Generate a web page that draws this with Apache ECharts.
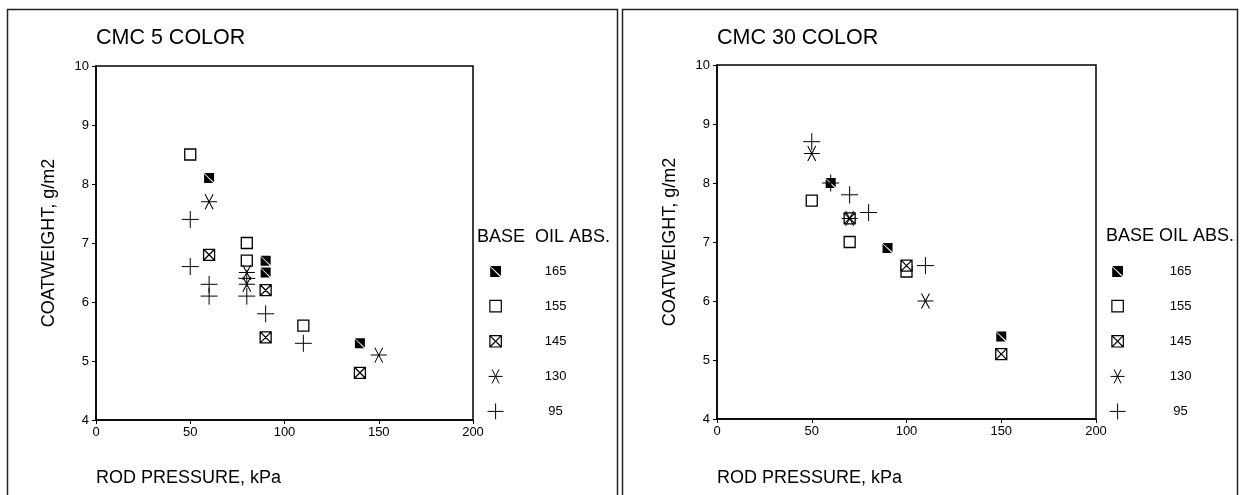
<!DOCTYPE html>
<html>
<head>
<meta charset="utf-8">
<script src="https://cdn.jsdelivr.net/npm/echarts@6/dist/echarts.min.js"></script>
<style>
  html, body { margin: 0; padding: 0; background: #fff; }
  #chart { width: 1240px; height: 495px; }
</style>
</head>
<body>
<div id="chart"></div>
<script>
// Base oil absorption groups (legend order)
const groups = ['165', '155', '145', '130', '95'];
const xTicks = [0, 50, 100, 150, 200];
const yTicks = [4, 5, 6, 7, 8, 9, 10];

// CMC 5 COLOR: [rod pressure kPa, coatweight g/m2]
const cmc5_165 = [[60, 8.1], [90, 6.7], [90, 6.5], [140, 5.3]];
const cmc5_155 = [[50, 8.5], [80, 7.0], [80, 6.7], [110, 5.6]];
const cmc5_145 = [[60, 6.8], [90, 6.2], [90, 5.4], [140, 4.8]];
const cmc5_130 = [[60, 7.7], [80, 6.5], [80, 6.3], [150, 5.1]];
const cmc5_95 = [[50, 7.4], [50, 6.6], [60, 6.3], [60, 6.1], [80, 6.4], [80, 6.1], [90, 5.8], [110, 5.3]];

// CMC 30 COLOR
const cmc30_165 = [[60, 8.0], [90, 6.9], [150, 5.4]];
const cmc30_155 = [[50, 7.7], [70, 7.0], [100, 6.5]];
const cmc30_145 = [[70, 7.4], [100, 6.6], [150, 5.1]];
const cmc30_130 = [[50, 8.5], [70, 7.4], [110, 6.0]];
const cmc30_95 = [[50, 8.7], [60, 8.0], [70, 7.8], [80, 7.5], [110, 6.6]];

const FONT = '"Liberation Sans", Arial, sans-serif';

// Marker shapes for each group; legend icons carry padding so they keep their relative sizes
const marks = {
  '165': { symbol: 'path://M0,0H100V92ZM0,8L92,100H0Z', size: 10,
           icon: 'path://M-24,-24M124,124M0,0H100V92ZM0,8L92,100H0Z',
           style: { color: '#000', borderWidth: 0 }, legendBorder: 0 },
  '155': { symbol: 'path://M0,0H100V100H0Z', size: 11,
           icon: 'path://M-20,-20M120,120M0,0H100V100H0Z',
           style: { color: '#fff', borderColor: '#000', borderWidth: 1.3 }, legendBorder: 1.2 },
  '145': { symbol: 'path://M0,0H100V100H0ZM0,0L100,100M100,0L0,100', size: 11,
           icon: 'path://M-20,-20M120,120M0,0H100V100H0ZM0,0L100,100M100,0L0,100',
           style: { color: '#fff', borderColor: '#000', borderWidth: 1.3 }, legendBorder: 1.2 },
  '130': { symbol: 'path://M0,50H100M25,0L75,100M75,0L25,100', size: [16, 15],
           icon: 'path://M-7,-7M107,107M0,50H100M25,0L75,100M75,0L25,100',
           style: { color: 'rgba(0,0,0,0)', borderColor: '#000', borderWidth: 1 }, legendBorder: 1 },
  '95':  { symbol: 'path://M0,50H100M50,0V100', size: 17,
           icon: 'path://M0,50H100M50,0V100',
           style: { color: 'rgba(0,0,0,0)', borderColor: '#000', borderWidth: 1 }, legendBorder: 1 }
};

const panels = [
  { title: 'CMC 5 COLOR', grid: { left: 96, top: 66, width: 377, height: 354 },
    data: { '165': cmc5_165, '155': cmc5_155, '145': cmc5_145, '130': cmc5_130, '95': cmc5_95 },
    legendHead: 'BASE  OIL ABS.', headX: 477, headY: 237, iconX: 495, labelX: 555 },
  { title: 'CMC 30 COLOR', grid: { left: 717, top: 65, width: 379, height: 354 },
    data: { '165': cmc30_165, '155': cmc30_155, '145': cmc30_145, '130': cmc30_130, '95': cmc30_95 },
    legendHead: 'BASE OIL ABS.', headX: 1106, headY: 236, iconX: 1117, labelX: 1180 }
];

const option = {
  animation: false,
  backgroundColor: '#fff',
  textStyle: { fontFamily: FONT, color: '#000' },
  title: [],
  grid: [],
  xAxis: [],
  yAxis: [],
  legend: [],
  series: [],
  graphic: []
};

// Outer frames around each panel
option.graphic.push(
  { type: 'rect', shape: { x: 7.5, y: 9.5, width: 610, height: 600 },
    style: { fill: 'none', stroke: '#222', lineWidth: 1.5 }, silent: true },
  { type: 'rect', shape: { x: 622.5, y: 9.5, width: 615, height: 600 },
    style: { fill: 'none', stroke: '#222', lineWidth: 1.5 }, silent: true }
);

const LEG_ICON = 16;

panels.forEach((p, i) => {
  option.title.push(
    { text: p.title, left: p.grid.left, top: 27, padding: 0,
      textStyle: { fontFamily: FONT, fontSize: 21.5, fontWeight: 'normal', color: '#000' } },
    { text: 'ROD PRESSURE, kPa', left: p.grid.left, top: 469, padding: 0,
      textStyle: { fontFamily: FONT, fontSize: 18, fontWeight: 'normal', color: '#000' } },
    { text: p.legendHead, left: p.headX, top: p.headY - 9, padding: 0,
      textStyle: { fontFamily: FONT, fontSize: 18, fontWeight: 'normal', color: '#000' } }
  );
  option.grid.push(Object.assign({ show: true, borderColor: '#000', borderWidth: 1.5,
    backgroundColor: '#fff' }, p.grid));
  option.xAxis.push({
    gridIndex: i, type: 'value', min: xTicks[0], max: xTicks[xTicks.length - 1], interval: 50,
    axisLine: { show: true, lineStyle: { color: '#000', width: 1.5 } },
    axisTick: { show: true, length: 4, lineStyle: { color: '#000' } },
    axisLabel: { fontFamily: FONT, fontSize: 13, color: '#000', margin: 6 },
    splitLine: { show: false }
  });
  option.yAxis.push({
    gridIndex: i, type: 'value', min: yTicks[0], max: yTicks[yTicks.length - 1], interval: 1,
    name: 'COATWEIGHT, g/m2', nameLocation: 'middle', nameGap: 38,
    nameTextStyle: { fontFamily: FONT, fontSize: 18, color: '#000' },
    axisLine: { show: true, lineStyle: { color: '#000', width: 1.5 } },
    axisTick: { show: true, length: 4, lineStyle: { color: '#000' } },
    axisLabel: { fontFamily: FONT, fontSize: 13, color: '#000', margin: 7 },
    splitLine: { show: false }
  });
  const textStart = p.iconX + LEG_ICON / 2 + 5;
  option.legend.push({
    data: groups.map(g => ({ name: g, icon: marks[g].icon,
      itemStyle: { borderWidth: marks[g].legendBorder } })),
    orient: 'vertical', left: p.iconX - LEG_ICON / 2, top: 271.5 - LEG_ICON / 2, padding: 0,
    itemWidth: LEG_ICON, itemHeight: LEG_ICON, itemGap: 18, selectedMode: false,
    formatter: '{v|{name}}',
    textStyle: { fontFamily: FONT, fontSize: 13, color: '#000',
      rich: { v: { width: 2 * (p.labelX - textStart), align: 'center', fontSize: 13, lineHeight: 14 } } }
  });
  groups.forEach(g => {
    const m = marks[g];
    option.series.push({
      name: g, type: 'scatter', xAxisIndex: i, yAxisIndex: i,
      data: p.data[g], symbol: m.symbol, symbolSize: m.size,
      itemStyle: Object.assign({ opacity: 1 }, m.style),
      emphasis: { disabled: true }, silent: true
    });
  });
});

const chart = echarts.init(document.getElementById('chart'), null, { renderer: 'canvas' });
chart.setOption(option);
</script>
</body>
</html>
